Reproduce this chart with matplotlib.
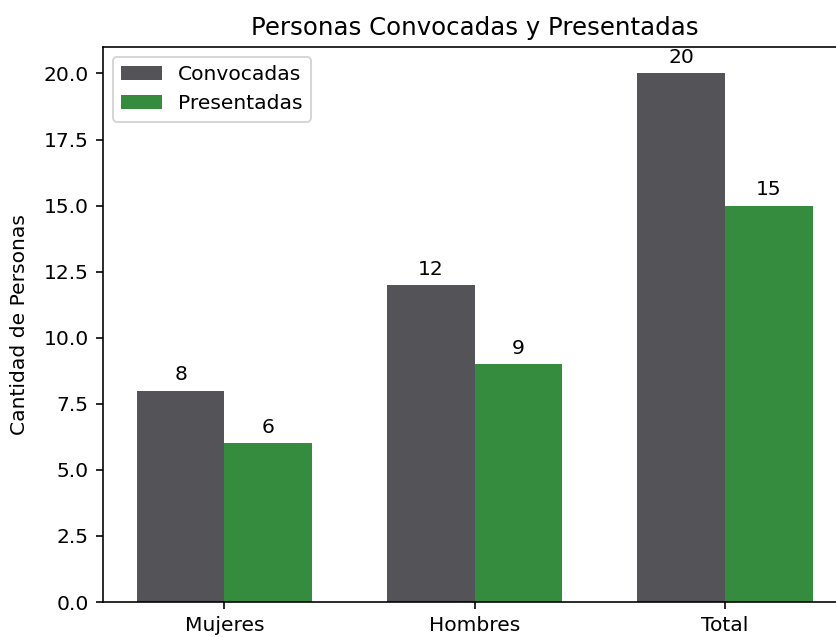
import matplotlib
matplotlib.use("Agg")
import matplotlib.pyplot as plt
import numpy as np

categories = ["Mujeres", "Hombres", "Total"]
convocadas = [8, 12, 20]
presentadas = [6, 9, 15]
series_labels = ["Convocadas", "Presentadas"]

DPI = 146
fig = plt.figure(figsize=(837 / DPI, 637 / DPI), dpi=DPI)
ax = fig.add_axes([103 / 837, 35 / 637, 743.5 / 837, 555 / 637])

x = np.arange(len(categories))
w = 0.35
b1 = ax.bar(x - w / 2, convocadas, w, label=series_labels[0], color="#545358")
b2 = ax.bar(x + w / 2, presentadas, w, label=series_labels[1], color="#368c3e")

for bars in (b1, b2):
    for r in bars:
        h = r.get_height()
        ax.annotate(f"{h}", xy=(r.get_x() + r.get_width() / 2, h),
                    xytext=(0, 3), textcoords="offset points",
                    ha="center", va="bottom")

ax.set_xticks(x)
ax.set_xticklabels(categories)
ax.set_ylabel("Cantidad de Personas", labelpad=7)
ax.set_title("Personas Convocadas y Presentadas")
ax.legend(loc="upper left")

fig.savefig("out.png", dpi=DPI)
